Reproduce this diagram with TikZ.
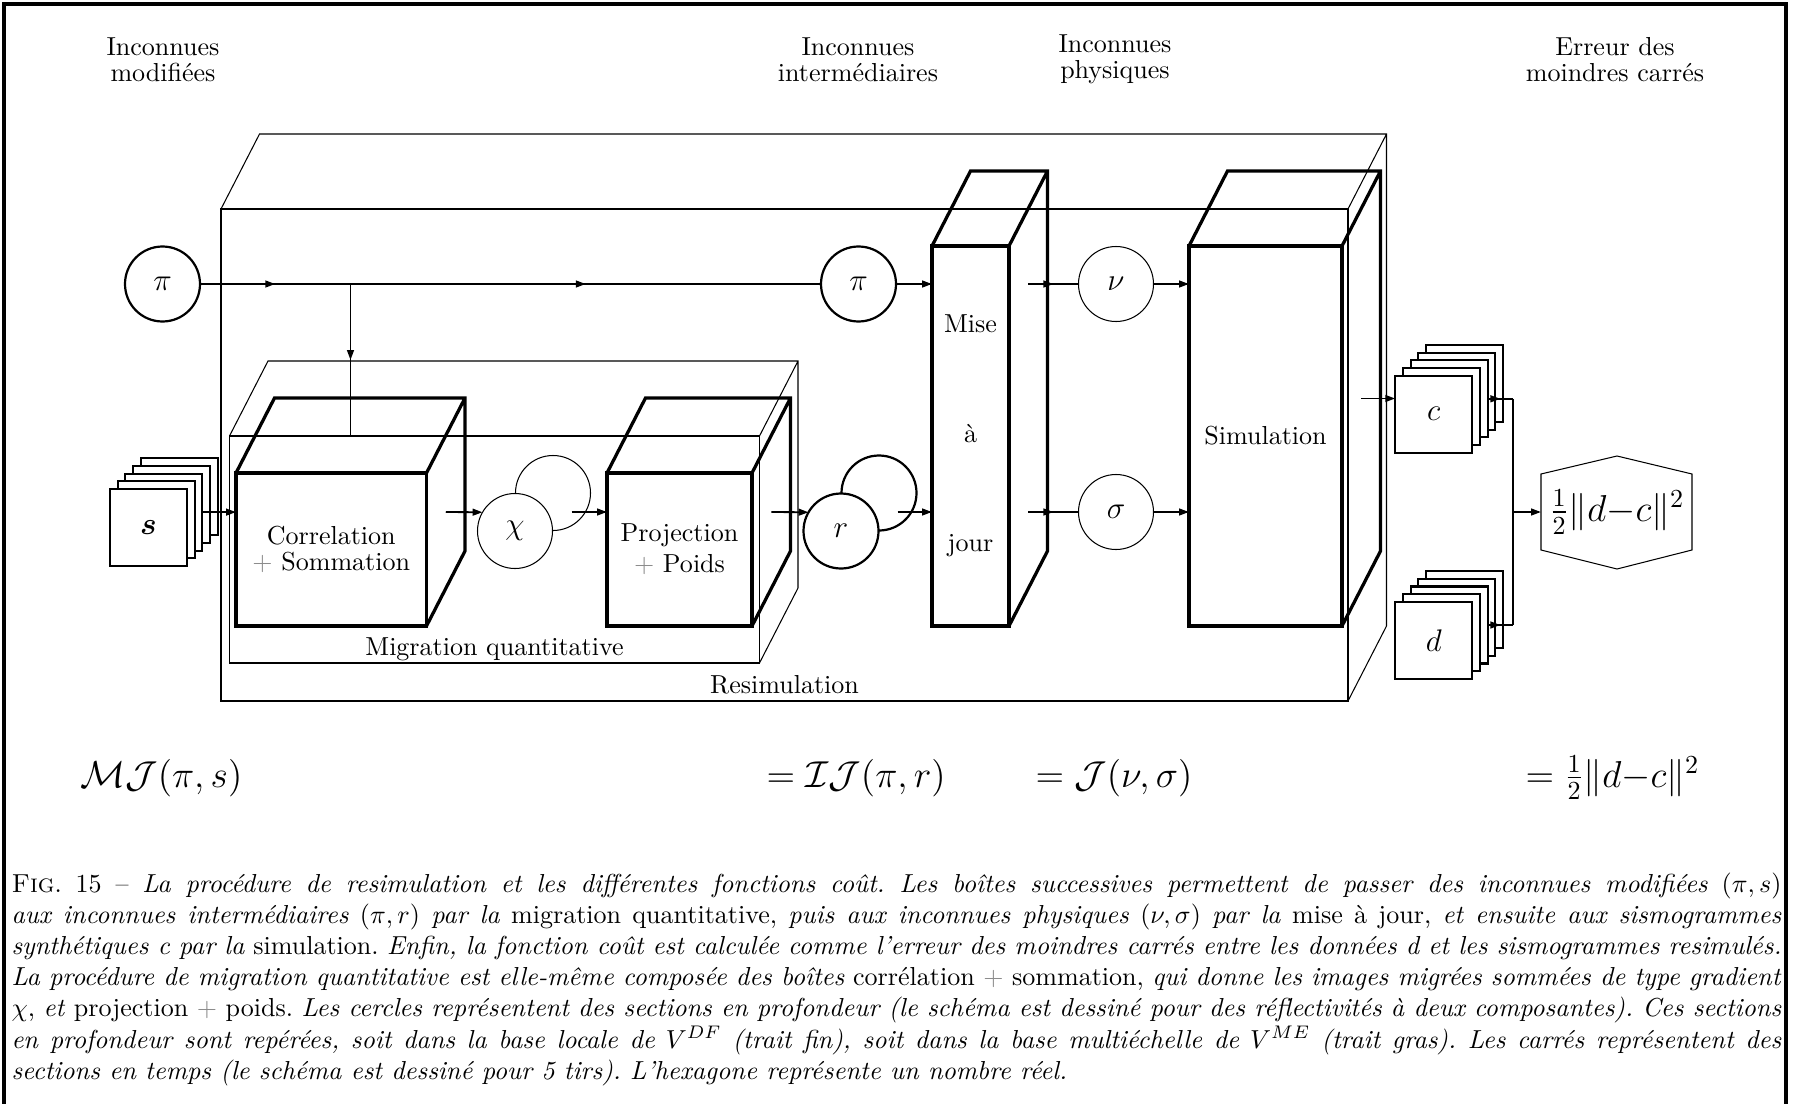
\documentclass[tikz,border=0pt]{standalone}
\usepackage{amsmath, amssymb, bm}
\usetikzlibrary{arrows.meta, calc, decorations.markings}
\newcommand{\pxu}{0.0135cm}
\newcommand{\gplus}{\textcolor{black!45}{$+$}}
% top and right faces of a box drawn from its front node
\newcommand{\boxfaces}[2][]{%
  \draw[#1] (#2.north west) -- ++(38.5,-75) -| ($(#2.south east)+(38.5,-75)$) -- (#2.south east)
    (#2.north east) -- ++(38.5,-75);}
\frenchspacing

\begin{document}
\begin{tikzpicture}[x=\pxu, y=-\pxu,
    pageframe/.style={line width=1.2pt},
    thinline/.style={line width=0.4pt},
    sz/.style 2 args={minimum width=#1*\pxu, minimum height=#2*\pxu},
    outerbox/.style={draw, line width=0.75pt, inner sep=0, outer sep=0},
    innerbox/.style={draw, line width=0.5pt, inner sep=0, outer sep=0},
    cube/.style={draw, line width=1.25pt, inner sep=0, outer sep=0, align=center,
                 font=\fontsize{10pt}{10pt}\selectfont},
    sect/.style={circle, draw, fill=white, minimum size=75*\pxu, inner sep=0, outer sep=0, font=\large},
    fin/.style={sect, line width=0.4pt},
    gras/.style={sect, line width=0.85pt},
    sheet/.style={draw, fill=white, line width=0.8pt, minimum size=77*\pxu, inner sep=0, outer sep=0, font=\large},
    flow/.style={line width=0.7pt},
    arr/.style={flow, -{Triangle[length=3.8pt,width=2.6pt]}},
    midarr/.style={postaction={decorate}, decoration={markings,
        mark=at position 0.5 with {\arrow{Triangle[length=3.8pt,width=2.6pt]}}}},
    lbl/.style={align=center, inner sep=0, font=\fontsize{10pt}{10pt}\selectfont},
    fml/.style={anchor=base west, inner sep=0, font=\Large}]
  \useasboundingbox (0,0) rectangle (1794,1104);
  \draw[pageframe] (4,1104) -- (4,4) -- (1786,4) -- (1786,1104);

  % headings
  \node[lbl, anchor=north] (hmod) at (163,37) {Inconnues\\modifiées};
  \node[lbl, anchor=north] (hint) at (858,37) {Inconnues\\intermédiaires};
  \node[lbl, anchor=north] (hphy) at (1115,34) {Inconnues\\physiques};
  \node[lbl, anchor=north] (herr) at (1615,37) {Erreur des\\moindres carrés};

  % boxes
  \node[outerbox, sz={1127}{492}] (resim) at (784.5,455) {};
  \boxfaces[thinline]{resim}
  \node[anchor=base] (resimlbl) at (784.5,693) {Resimulation};
  \node[innerbox, sz={530}{227}] (mig) at (494.5,549.5) {};
  \boxfaces[thinline]{mig}
  \node[anchor=base] (miglbl) at (494.5,655) {Migration quantitative};
  \node[cube, sz={190.5}{153}] (corr) at (331.25,549.5) {Correlation\\\gplus{} Sommation};
  \boxfaces[line width=1.25pt]{corr}
  \node[cube, sz={145}{153}] (proj) at (679.5,549.5) {Projection\\[2pt]\gplus{} Poids};
  \boxfaces[line width=1.25pt]{proj}
  \node[cube, sz={77}{380}] (mise) at (970.5,436) {Mise\\[32pt]à\\[32pt]jour};
  \boxfaces[line width=1.25pt]{mise}
  \node[cube, sz={153}{380}] (sim) at (1265.5,436) {Simulation};
  \boxfaces[line width=1.25pt]{sim}

  % depth sections
  \node[gras] (pil) at (162.5,284) {$\pi$};
  \node[gras] (pir) at (858.5,284) {$\pi$};
  \node[fin] (nu) at (1116,284) {$\nu$};
  \node[fin] (sigma) at (1116,512) {$\sigma$};
  \coordinate (chim) at (534,512);
  \node[fin] (chib) at ($(chim)+(19,-19)$) {};
  \node[fin] (chif) at ($(chim)+(-19,19)$) {$\chi$};
  \coordinate (rm) at (860,512);
  \node[gras] (rb) at ($(rm)+(19,-19)$) {};
  \node[gras] (rf) at ($(rm)+(-19,19)$) {$r$};

  % time sections, 5 shots
  \foreach \n/\x/\y/\t in {s/148.5/527.5/{\bm{s}}, c/1433.7/414.2/c, d/1433.7/640.4/d} {
    \foreach \k in {4,3,2,1}
      \node[sheet] (\n\k) at ({\x+7.7*\k},{\y-7.7*\k}) {};
    \node[sheet] (\n0) at (\x,\y) {$\t$};
  }

  % least squares
  \node[font=\Large] (err) at (1617,512) {$\frac{1}{2}\|d{-}c\|^2$};
  \draw[thinline] ($(err)+(-76,-38)$) -- ($(err)+(0,-56)$) -- ($(err)+(75,-38)$)
    -- ($(err)+(75,38)$) -- ($(err)+(0,57)$) -- ($(err)+(-76,38)$) -- cycle;
  \coordinate (errw) at ($(err)+(-76,0)$);

  % connectors
  \coordinate (corrm) at ($(corr.center)+(19.25,-37.5)$);
  \coordinate (br) at (corrm |- pil);
  \draw[flow, midarr] (pil) -- (br);
  \draw[flow, midarr] (br) -- (pir);
  \draw[flow, midarr] (br) -- (br |- mig.north);
  \draw[arr] (pir) -- (mise.west |- pir);
  \coordinate (misea) at ($(mise.east |- nu)+(19.25,0)$);
  \draw[flow, midarr] (misea) -- (nu);
  \draw[arr] (nu) -- (sim.west |- nu);
  \coordinate (miseb) at ($(mise.east |- sigma)+(19.25,0)$);
  \draw[flow, midarr] (miseb) -- (sigma);
  \draw[arr] (sigma) -- (sim.west |- sigma);
  \draw[arr] (s2.east) -- (corr.west |- s2.east);
  \coordinate (corro) at ($(corr.east)+(19.25,-37.5)$);
  \draw[arr] (corro) -- (chif.150);
  \coordinate (chio) at ($(chim)+(37.5,0)$);
  \draw[arr] (chio) -- (proj.west |- chio);
  \coordinate (projo) at ($(proj.east)+(19.25,-37.5)$);
  \draw[arr] (projo) -- (rf.150);
  \coordinate (ro) at ($(rm)+(37.5,0)$);
  \draw[arr] (ro) -- (mise.west |- ro);
  \coordinate (simo) at ($(sim.east)+(19.25,-37.5)$);
  \draw[arr] (simo) -- (c0.west |- simo);
  \coordinate (jc) at ($(c2.east)+(25.5,0)$);
  \coordinate (jd) at (jc |- d2.east);
  \draw[flow, midarr] (c2.east) -- (jc);
  \draw[flow, midarr] (d2.east) -- (jd);
  \draw[flow] (jc) -- (jd);
  \draw[arr] (jc |- err) -- (errw);

  % cost functions
  \node[fml] (mj) at (80,787) {$\mathcal{M}\mathcal{J}(\pi,s)$};
  \node[fml] (ij) at (766,787) {$=\mathcal{I}\mathcal{J}(\pi,r)$};
  \node[fml] (jj) at (1035,787) {$=\mathcal{J}(\nu,\sigma)$};
  \node[fml] (lsq) at (1525,787) {$=\frac{1}{2}\|d{-}c\|^2$};

  % caption
  \node[anchor=north west, text width=1770*\pxu, align=justify, inner sep=0] (cap) at (11,872) {%
    \textsc{Fig}. 15 -- \textit{La procédure de resimulation et les différentes fonctions coût. Les boîtes successives permettent de passer des inconnues modifiées} $(\pi,s)$\linebreak
    \textit{aux inconnues intermédiaires} $(\pi,r)$ \textit{par la} migration quantitative, \textit{puis aux inconnues physiques} $(\nu,\sigma)$ \textit{par la} mise à jour, \textit{et ensuite aux sismogrammes}\linebreak
    \textit{synthétiques c par la} simulation. \textit{Enfin, la fonction coût est calculée comme l'erreur des moindres carrés entre les données d et les sismogrammes resimulés.}\linebreak
    \textit{La procédure de migration quantitative est elle-même composée des boîtes} corrélation \gplus{} sommation, \textit{qui donne les images migrées sommées de type gradient}\linebreak
    $\chi$, \textit{et} projection \gplus{} poids. \textit{Les cercles représentent des sections en profondeur (le schéma est dessiné pour des réflectivités à deux composantes). Ces sections}\linebreak
    \textit{en profondeur sont repérées, soit dans la base locale de} $V^{DF}$ \textit{(trait fin), soit dans la base multiéchelle de} $V^{ME}$ \textit{(trait gras). Les carrés représentent des}\linebreak
    \textit{sections en temps (le schéma est dessiné pour 5 tirs). L'hexagone représente un nombre réel.}};
\end{tikzpicture}
\end{document}
